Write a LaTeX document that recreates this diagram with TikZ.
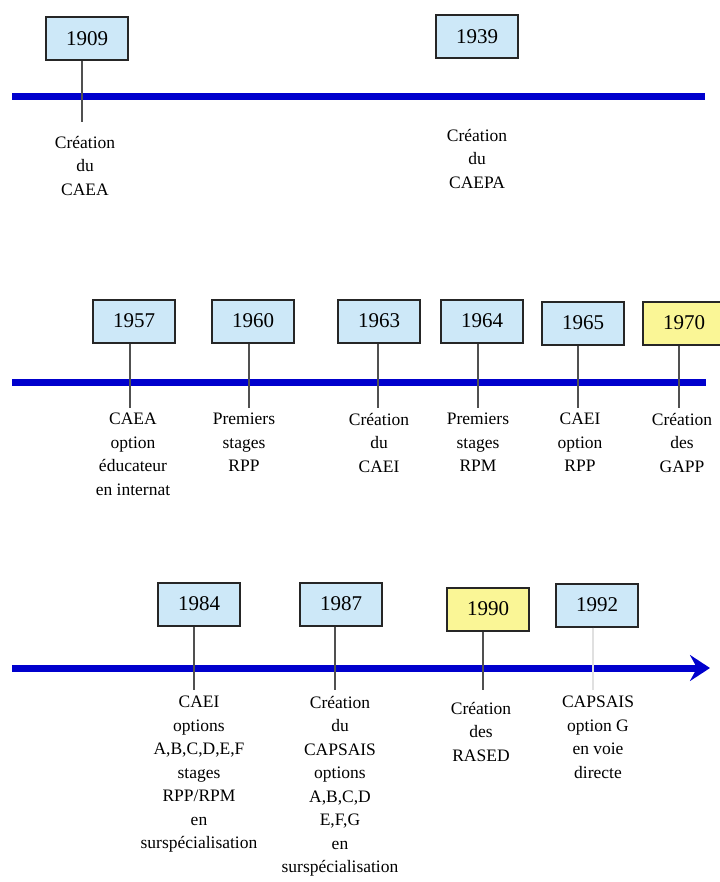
\documentclass[tikz,border=0pt]{standalone}
\usepackage{fontspec}
\setmainfont{Liberation Serif}
\usetikzlibrary{arrows.meta}
\definecolor{boxblue}{RGB}{205,232,248}
\definecolor{boxyellow}{RGB}{250,246,150}
\definecolor{lineblue}{RGB}{0,0,205}
\definecolor{tickgray}{RGB}{80,80,80}
\tikzset{
  yearbox/.style={draw=black!85, line width=2pt, fill=boxblue, minimum width=82pt, minimum height=43pt, inner sep=0pt, font=\fontsize{21}{24}\selectfont},
  yellowbox/.style={yearbox, fill=boxyellow},
  timeline/.style={lineblue, line width=7pt},
  tick/.style={tickgray, line width=2pt},
  faint/.style={black!12, line width=1.5pt},
  evlabel/.style={anchor=north, align=center, inner sep=0pt, font=\fontsize{17.5}{23.5}\selectfont}
}
\begin{document}
\begin{tikzpicture}[x=1pt,y=1pt]
\useasboundingbox (0,0) rectangle (719,-882);
% Row 1
\coordinate (l1a) at (12,-97);
\coordinate (l1b) at (705,-97);
\draw[timeline] (l1a) -- (l1b);
\node[yearbox] (y1909) at (87,-39) {1909};
\node[yearbox] (y1939) at (477,-37) {1939};
\coordinate (t1909) at (82,-122);
\draw[tick] (y1909.south -| t1909) -- (t1909);
\node[evlabel] (e1909) at (85,-136) {Création\\du\\CAEA};
\node[evlabel] (e1939) at (477,-129) {Création\\du\\CAEPA};
% Row 2
\coordinate (l2a) at (12,-382);
\coordinate (l2b) at (706,-382);
\draw[timeline] (l2a) -- (l2b);
\node[yearbox] (y1957) at (134,-321) {1957};
\node[yearbox] (y1960) at (253,-321) {1960};
\node[yearbox] (y1963) at (379,-321) {1963};
\node[yearbox] (y1964) at (482,-321) {1964};
\node[yearbox] (y1965) at (583,-323) {1965};
\node[yellowbox] (y1970) at (684,-323) {1970};
\foreach \n/\x in {1957/130,1960/249,1963/378,1964/478,1965/578,1970/679}{
  \coordinate (t\n) at (\x,-408);
  \draw[tick] (y\n.south -| t\n) -- (t\n);
}
\node[evlabel] (e1957) at (133,-413) {CAEA\\option\\éducateur\\en internat};
\node[evlabel] (e1960) at (244,-413) {Premiers\\stages\\RPP};
\node[evlabel] (e1963) at (379,-413) {Création\\du\\CAEI};
\node[evlabel] (e1964) at (478,-413) {Premiers\\stages\\RPM};
\node[evlabel] (e1965) at (580,-413) {CAEI\\option\\RPP};
\node[evlabel] (e1970) at (682,-413) {Création\\des\\GAPP};
% Row 3
\coordinate (l3a) at (12,-668);
\coordinate (l3b) at (710,-668);
\draw[timeline, -{Stealth[length=20pt,width=26pt,inset=7pt]}] (l3a) -- (l3b);
\node[yearbox] (y1984) at (199,-604) {1984};
\node[yearbox] (y1987) at (341,-604) {1987};
\node[yellowbox] (y1990) at (488,-609) {1990};
\node[yearbox] (y1992) at (597,-605) {1992};
\foreach \n/\x in {1984/194,1987/335,1990/483}{
  \coordinate (t\n) at (\x,-690);
  \draw[tick] (y\n.south -| t\n) -- (t\n);
}
\coordinate (t1992) at (593,-690);
\draw[faint] (y1992.south -| t1992) -- (t1992);
\node[evlabel] (e1984) at (199,-696) {CAEI\\options\\A,B,C,D,E,F\\stages\\RPP/RPM\\en\\surspécialisation};
\node[evlabel] (e1987) at (340,-696) {Création\\du\\CAPSAIS\\options\\A,B,C,D\\E,F,G\\en\\surspécialisation};
\node[evlabel] (e1990) at (481,-702) {Création\\des\\RASED};
\node[evlabel] (e1992) at (598,-696) {CAPSAIS\\option G\\en voie\\directe};
\end{tikzpicture}
\end{document}
